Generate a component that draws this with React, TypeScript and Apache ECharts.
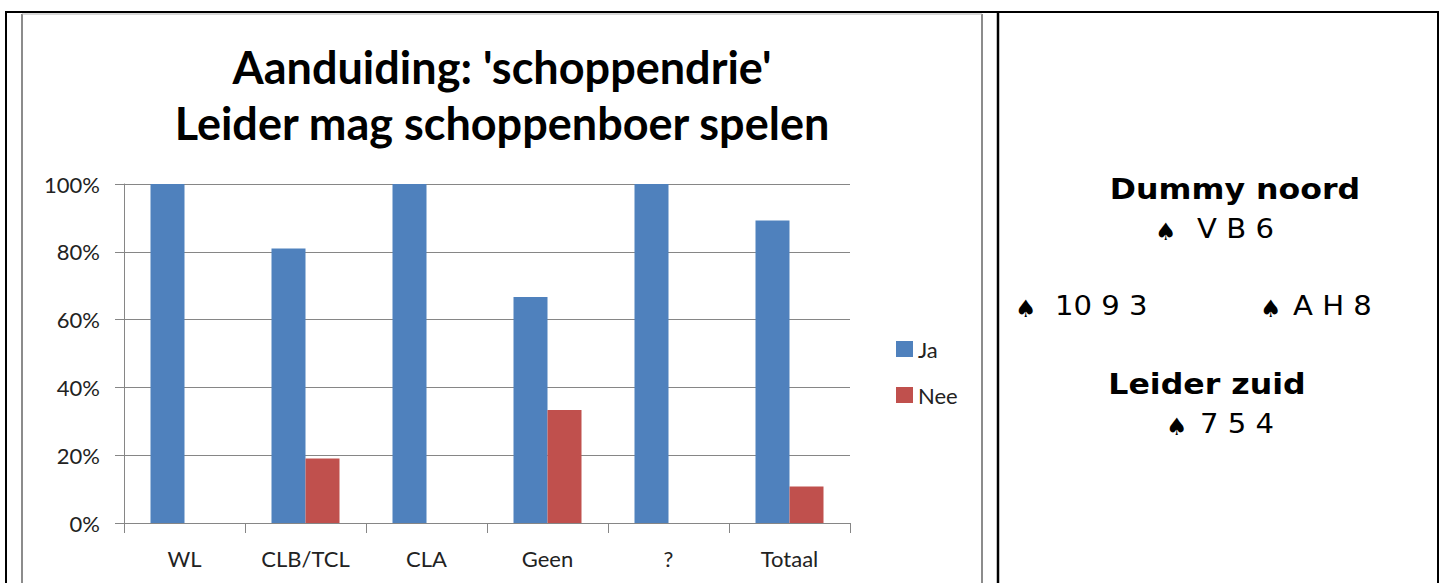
import React, { useEffect, useRef } from "react";
import * as echarts from "echarts";

const categories = ["WL", "CLB/TCL", "CLA", "Geen", "?", "Totaal"];
const jaValues = [100, 81, 100, 66.7, 100, 89.2];
const neeValues = [0, 19, 0, 33.3, 0, 10.8];
const seriesNames = ["Ja", "Nee"];
const titleLines = ["Aanduiding: 'schoppendrie'", "Leider mag schoppenboer spelen"];
const headings = ["Dummy noord", "Leider zuid"];
const hands = ["V B 6", "10 9 3", "A H 8", "7 5 4"];
const SPADE = "\u2660";

const CHART_FONT = "Lato";
const PANEL_FONT = "DejaVu Sans";

export default function App() {
  const ref = useRef<HTMLDivElement>(null);
  useEffect(() => {
    if (!ref.current) return;
    const chart = echarts.init(ref.current, undefined, { renderer: "svg" });
    const black = "#000";
    const frame = "#8c8c8c";
    const handPos = [
      { sx: 1155, tx: 1197, y: 229 },
      { sx: 1015, tx: 1055, y: 306 },
      { sx: 1260, tx: 1293, y: 306 },
      { sx: 1166, tx: 1200, y: 424 },
    ];
    const graphic: any[] = [
      { type: "line", shape: { x1: 5, y1: 12, x2: 1439, y2: 12 }, style: { stroke: black, lineWidth: 2 } },
      { type: "line", shape: { x1: 6, y1: 11, x2: 6, y2: 583 }, style: { stroke: black, lineWidth: 2 } },
      { type: "line", shape: { x1: 998, y1: 11, x2: 998, y2: 583 }, style: { stroke: black, lineWidth: 2.5 } },
      { type: "line", shape: { x1: 1438, y1: 11, x2: 1438, y2: 583 }, style: { stroke: black, lineWidth: 2 } },
      { type: "line", shape: { x1: 22, y1: 14, x2: 22, y2: 583 }, style: { stroke: frame, lineWidth: 2 } },
      { type: "line", shape: { x1: 982, y1: 14, x2: 982, y2: 583 }, style: { stroke: frame, lineWidth: 2 } },
      { type: "line", shape: { x1: 22, y1: 14, x2: 982, y2: 14 }, style: { stroke: "#b0b0b0", lineWidth: 1 } },
      {
        type: "text", x: 502, y: 67,
        style: { text: titleLines[0], font: `bold 45px ${CHART_FONT}`, fill: "#000", align: "center", verticalAlign: "middle" },
      },
      {
        type: "text", x: 502, y: 123,
        style: { text: titleLines[1], font: `bold 45px ${CHART_FONT}`, fill: "#000", align: "center", verticalAlign: "middle" },
      },
      {
        type: "text", x: 1235, y: 189, scaleX: 1.09,
        style: { text: headings[0], font: `bold 29px "${PANEL_FONT}"`, fill: "#000", align: "center", verticalAlign: "middle" },
      },
      {
        type: "text", x: 1207, y: 384, scaleX: 1.09,
        style: { text: headings[1], font: `bold 29px "${PANEL_FONT}"`, fill: "#000", align: "center", verticalAlign: "middle" },
      },
    ];
    hands.forEach((h, i) => {
      const p = handPos[i];
      graphic.push({
        type: "text", x: p.sx, y: p.y + 3,
        style: { text: SPADE, font: `24px "${PANEL_FONT}"`, fill: "#000", align: "left", verticalAlign: "middle" },
      });
      graphic.push({
        type: "text", x: p.tx, y: p.y, scaleX: 1.12,
        style: { text: h, font: `26px "${PANEL_FONT}"`, fill: "#000", align: "left", verticalAlign: "middle" },
      });
    });

    chart.setOption({
      animation: false,
      textStyle: { fontFamily: CHART_FONT },
      grid: { left: 124, top: 184, width: 726, height: 339, containLabel: false },
      legend: {
        data: seriesNames,
        orient: "vertical",
        left: 891,
        top: 333,
        itemWidth: 17,
        itemHeight: 16,
        itemGap: 24,
        icon: "rect",
        textStyle: { fontFamily: CHART_FONT, fontSize: 22, color: "#222" },
      },
      xAxis: {
        type: "category",
        data: categories,
        axisLine: { lineStyle: { color: "#868686", width: 1 } },
        axisTick: { show: true, length: 10, lineStyle: { color: "#868686" } },
        axisLabel: { color: "#222", fontSize: 22, fontFamily: CHART_FONT, margin: 24 },
      },
      yAxis: {
        type: "value",
        min: 0,
        max: 100,
        interval: 20,
        axisLine: { show: true, lineStyle: { color: "#868686" } },
        axisTick: { show: true, inside: false, length: 9, lineStyle: { color: "#868686" } },
        splitLine: { show: true, lineStyle: { color: "#868686", width: 1 } },
        axisLabel: { formatter: "{value}%", color: "#222", fontSize: 22, fontFamily: CHART_FONT, margin: 24 },
      },
      series: [
        { name: seriesNames[0], type: "bar", data: jaValues, barWidth: 34, barGap: "0%", itemStyle: { color: "#4F81BD" } },
        { name: seriesNames[1], type: "bar", data: neeValues, barWidth: 34, barGap: "0%", itemStyle: { color: "#C0504D" } },
      ],
      graphic,
    });
    return () => chart.dispose();
  }, []);
  return (
    <div
      ref={ref}
      style={{ position: "absolute", left: 0, top: 0, width: 1444, height: 583, background: "#fff" }}
    />
  );
}
